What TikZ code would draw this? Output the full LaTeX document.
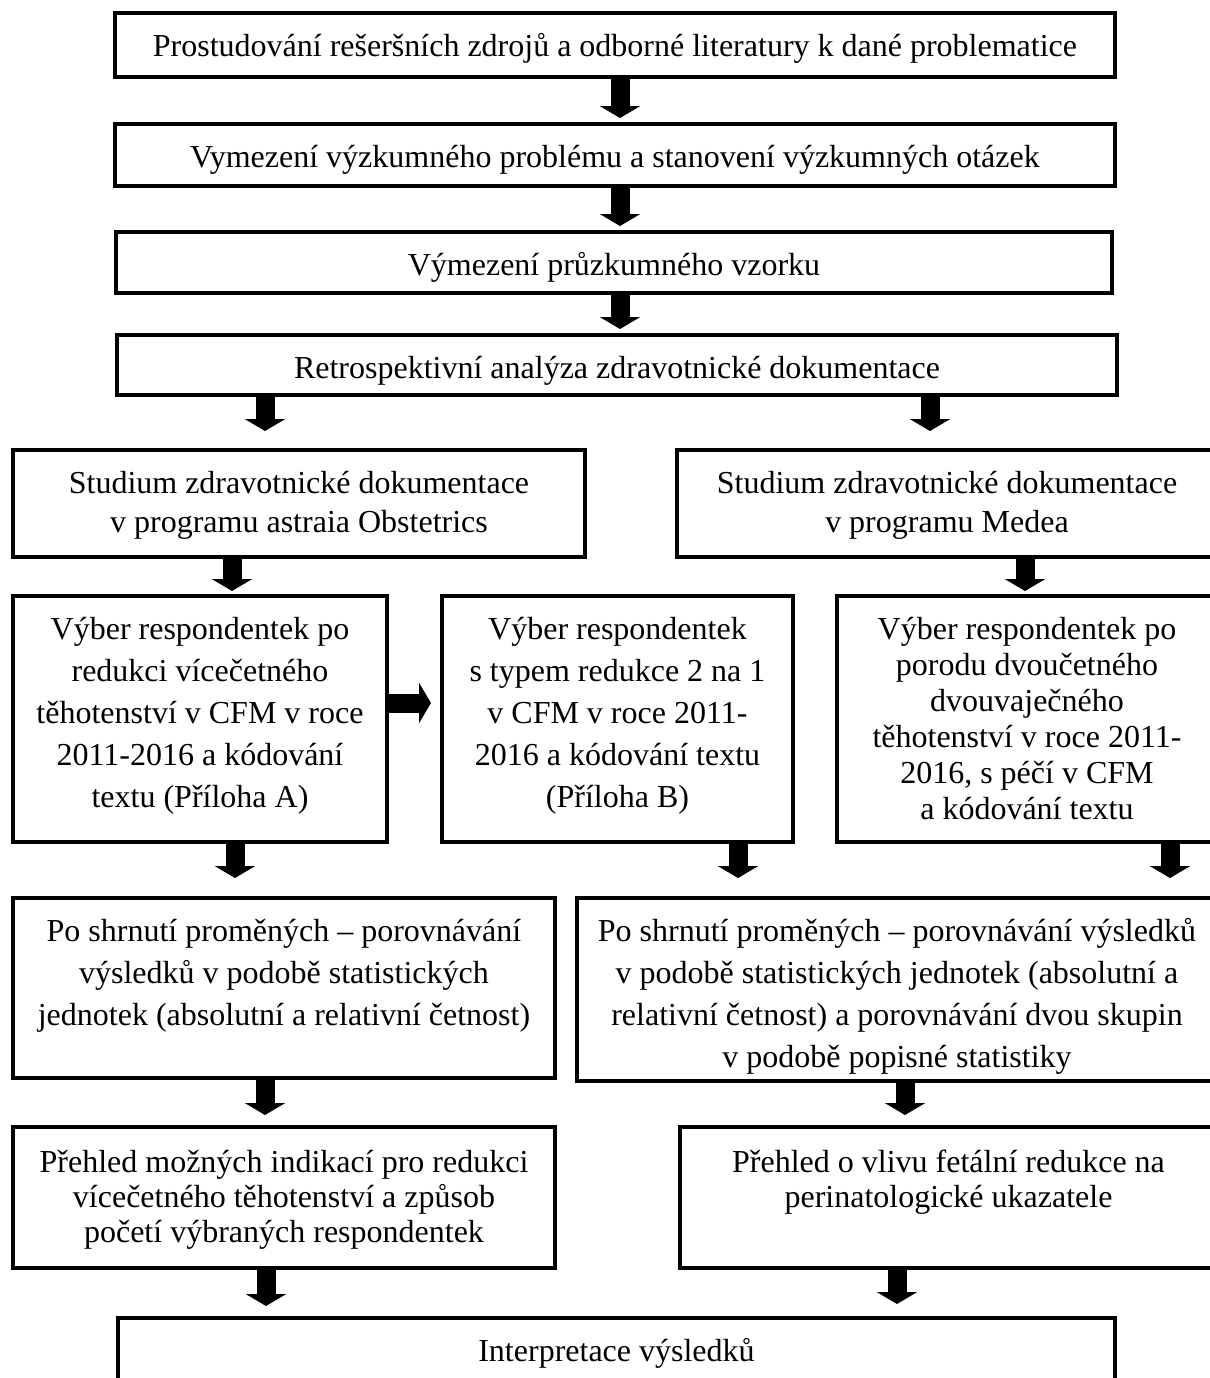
\documentclass[tikz,border=0pt]{standalone}
\usepackage{fontspec}
\setmainfont{Liberation Serif}
\usetikzlibrary{arrows.meta}
\newcommand{\bxtext}[5][21.5pt]{\parbox[c][#3][t]{#2}{\centering\fontsize{16pt}{#4}\selectfont\rule{0pt}{#1}#5\par}}
\begin{document}
\begin{tikzpicture}[x=0.5pt,y=-0.5pt,
  box/.style={draw=black, line width=1.8pt, inner sep=0pt, outer sep=0pt, anchor=north west},
  blk/.style={draw=black, line width=9.5pt, -{Triangle[width=20pt,length=6pt]}}]
\useasboundingbox (0,0) rectangle (1210,1378);
\fill[white] (0,0) rectangle (1210,1378);
\clip (0,0) rectangle (1210,1378);

\node[box] (b1) at (115,13) {\bxtext{500pt}{32pt}{21pt}{Prostudování rešeršních zdrojů a odborné literatury k dané problematice}};
\node[box] (b2) at (115,124) {\bxtext{500pt}{31pt}{21pt}{Vymezení výzkumného problému a stanovení výzkumných otázek}};
\node[box] (b3) at (116,232) {\bxtext{498pt}{30.5pt}{21pt}{Výmezení průzkumného vzorku}};
\node[box] (b4) at (117,335) {\bxtext{500pt}{30pt}{21pt}{Retrospektivní analýza zdravotnické dokumentace}};

\node[box] (b5a) at (13,450) {\bxtext{286pt}{53.5pt}{19.5pt}{Studium zdravotnické dokumentace\\v programu astraia Obstetrics}};
\node[box] (b5b) at (677,450) {\bxtext{270pt}{53.5pt}{19.5pt}{Studium zdravotnické dokumentace\\v programu Medea}};

\node[box] (b6a) at (13,596) {\bxtext{187pt}{123pt}{21pt}{Výber respondentek po\\redukci vícečetného\\těhotenství v CFM v roce\\2011-2016 a kódování\\textu (Příloha A)}};
\node[box] (b6b) at (442,596) {\bxtext{175.5pt}{123pt}{21pt}{Výber respondentek\\s typem redukce 2 na 1\\v CFM v roce 2011-\\2016 a kódování textu\\(Příloha B)}};
\node[box] (b6c) at (837,596) {\bxtext{190pt}{123pt}{18pt}{Výber respondentek po\\porodu dvoučetného\\dvouvaječného\\těhotenství v roce 2011-\\2016, s péčí v CFM\\a kódování textu}};

\node[box] (b7a) at (13,898) {\bxtext{271pt}{90pt}{21pt}{Po shrnutí proměných – porovnávání\\výsledků v podobě statistických\\jednotek (absolutní a relativní četnost)}};
\node[box] (b7b) at (577,898) {\bxtext{320pt}{91.5pt}{21pt}{Po shrnutí proměných – porovnávání výsledků\\v podobě statistických jednotek (absolutní a\\relativní četnost) a porovnávání dvou skupin\\v podobě popisné statistiky}};

\node[box] (b8a) at (13,1127) {\bxtext[22.5pt]{271pt}{70.5pt}{17.5pt}{Přehled možných indikací pro redukci\\vícečetného těhotenství a způsob\\početí výbraných respondentek}};
\node[box] (b8b) at (680,1127) {\bxtext[22.5pt]{268.5pt}{70.5pt}{17.5pt}{Přehled o vlivu fetální redukce na\\perinatologické ukazatele}};

\node[box] (b9) at (118,1318) {\bxtext{498.5pt}{60pt}{21pt}{Interpretace výsledků}};

\coordinate (a1) at (620,118);
\coordinate (a2) at (620,226);
\coordinate (a3) at (620,329);
\coordinate (a4l) at (265,431);
\coordinate (a4r) at (930,431);
\coordinate (a5l) at (232,591);
\coordinate (a5r) at (1025,591);
\coordinate (a6h) at (431,703);
\coordinate (a6l) at (235,878);
\coordinate (a6m) at (738,878);
\coordinate (a6r) at (1170,878);
\coordinate (a7l) at (265,1115);
\coordinate (a7r) at (905,1115);
\coordinate (a8l) at (266,1306);
\coordinate (a8r) at (897,1304);

\draw[blk] (b1.south -| a1) -- (a1);
\draw[blk] (b2.south -| a2) -- (a2);
\draw[blk] (b3.south -| a3) -- (a3);
\draw[blk] (b4.south -| a4l) -- (a4l);
\draw[blk] (b4.south -| a4r) -- (a4r);
\draw[blk] (b5a.south -| a5l) -- (a5l);
\draw[blk] (b5b.south -| a5r) -- (a5r);
\draw[blk] (b6a.east |- a6h) -- (a6h);
\draw[blk] (b6a.south -| a6l) -- (a6l);
\draw[blk] (b6b.south -| a6m) -- (a6m);
\draw[blk] (b6c.south -| a6r) -- (a6r);
\draw[blk] (b7a.south -| a7l) -- (a7l);
\draw[blk] (b7b.south -| a7r) -- (a7r);
\draw[blk] (b8a.south -| a8l) -- (a8l);
\draw[blk] (b8b.south -| a8r) -- (a8r);
\end{tikzpicture}
\end{document}
